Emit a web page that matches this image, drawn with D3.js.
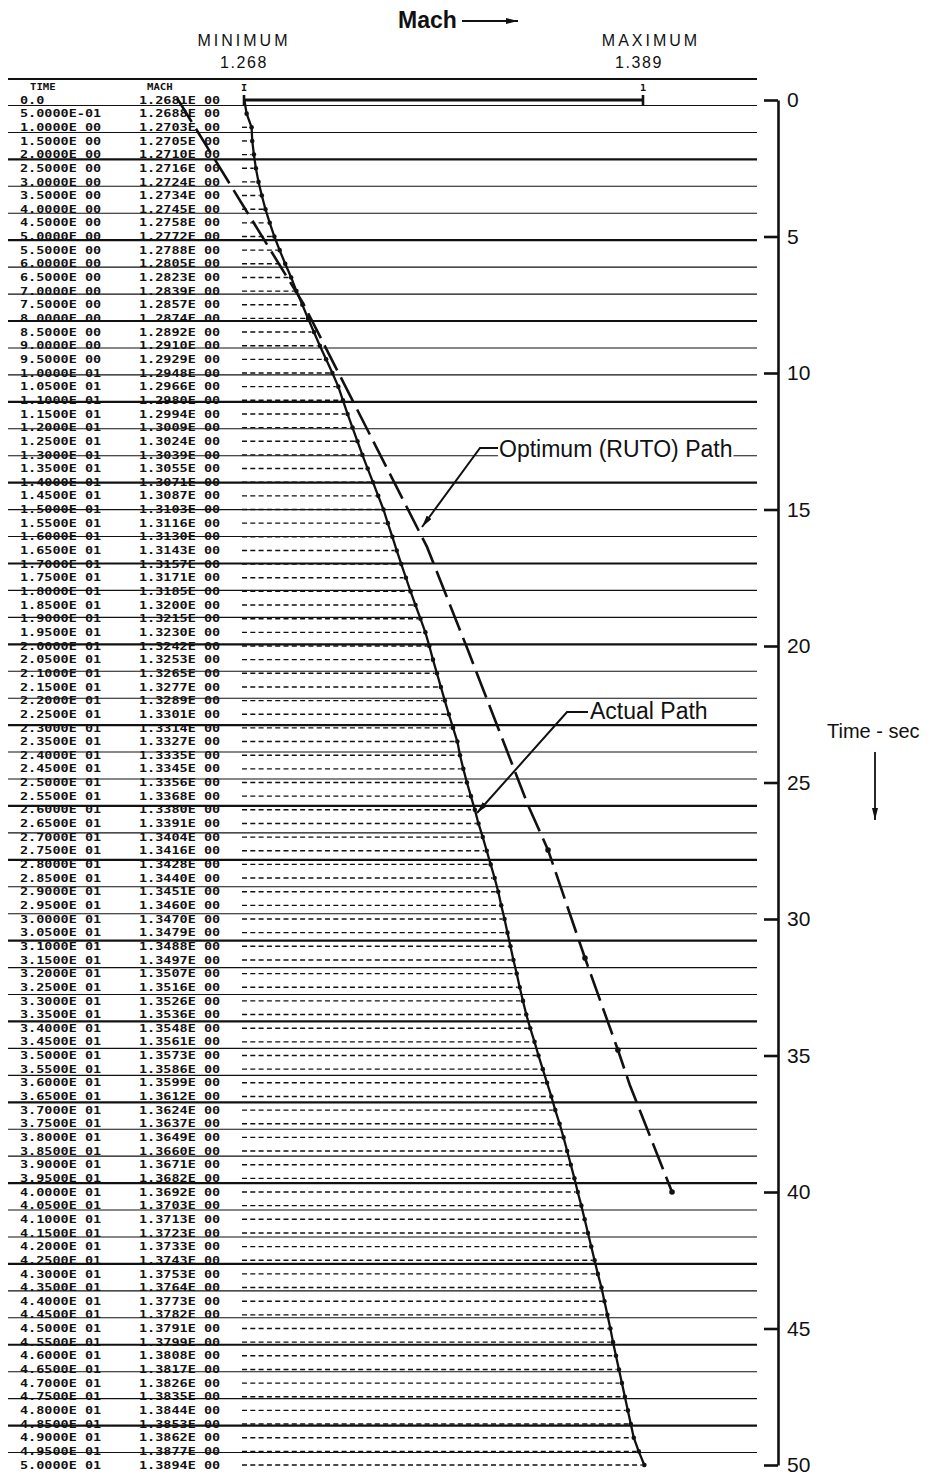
<!DOCTYPE html>
<html>
<head>
<meta charset="utf-8">
<script src="https://cdn.jsdelivr.net/npm/d3@7"></script>
<style>
  html, body { margin: 0; padding: 0; background: #fff; }
  svg { display: block; }
</style>
</head>
<body>
<svg id="chart" width="928" height="1477"></svg>
<script>
// ---- Printout data: time (sec) and Mach number, one row per half second ----
const times = [
  0, 0.5, 1, 1.5, 2, 2.5, 3, 3.5, 4, 4.5,
  5, 5.5, 6, 6.5, 7, 7.5, 8, 8.5, 9, 9.5,
  10, 10.5, 11, 11.5, 12, 12.5, 13, 13.5, 14, 14.5,
  15, 15.5, 16, 16.5, 17, 17.5, 18, 18.5, 19, 19.5,
  20, 20.5, 21, 21.5, 22, 22.5, 23, 23.5, 24, 24.5,
  25, 25.5, 26, 26.5, 27, 27.5, 28, 28.5, 29, 29.5,
  30, 30.5, 31, 31.5, 32, 32.5, 33, 33.5, 34, 34.5,
  35, 35.5, 36, 36.5, 37, 37.5, 38, 38.5, 39, 39.5,
  40, 40.5, 41, 41.5, 42, 42.5, 43, 43.5, 44, 44.5,
  45, 45.5, 46, 46.5, 47, 47.5, 48, 48.5, 49, 49.5,
  50
];
const mach = [
  1.2681, 1.2688, 1.2703, 1.2705, 1.2710, 1.2716, 1.2724, 1.2734, 1.2745, 1.2758,
  1.2772, 1.2788, 1.2805, 1.2823, 1.2839, 1.2857, 1.2874, 1.2892, 1.2910, 1.2929,
  1.2948, 1.2966, 1.2980, 1.2994, 1.3009, 1.3024, 1.3039, 1.3055, 1.3071, 1.3087,
  1.3103, 1.3116, 1.3130, 1.3143, 1.3157, 1.3171, 1.3185, 1.3200, 1.3215, 1.3230,
  1.3242, 1.3253, 1.3265, 1.3277, 1.3289, 1.3301, 1.3314, 1.3327, 1.3335, 1.3345,
  1.3356, 1.3368, 1.3380, 1.3391, 1.3404, 1.3416, 1.3428, 1.3440, 1.3451, 1.3460,
  1.3470, 1.3479, 1.3488, 1.3497, 1.3507, 1.3516, 1.3526, 1.3536, 1.3548, 1.3561,
  1.3573, 1.3586, 1.3599, 1.3612, 1.3624, 1.3637, 1.3649, 1.3660, 1.3671, 1.3682,
  1.3692, 1.3703, 1.3713, 1.3723, 1.3733, 1.3743, 1.3753, 1.3764, 1.3773, 1.3782,
  1.3791, 1.3799, 1.3808, 1.3817, 1.3826, 1.3835, 1.3844, 1.3853, 1.3862, 1.3877,
  1.3894
];

// Plot scale limits printed across the top
const scaleNames = ["MINIMUM", "MAXIMUM"];
const scaleValues = [1.268, 1.389];
const scaleMarks = ["I", "1"];

// Time axis ticks (seconds)
const timeTicks = [0, 5, 10, 15, 20, 25, 30, 35, 40, 45, 50];

// Optimum (RUTO) path, hand-drawn over the printout
const rutoTime = [-0.07, 7.44, 16.37, 20.15, 25.82, 27.47, 31.43, 34.80, 36.08, 40.0];
const rutoMach = [1.2477, 1.2859, 1.3235, 1.3359, 1.3541, 1.3602, 1.3714, 1.3814, 1.3850, 1.3978];
// vertices of that path that carry a plotted dot
const rutoDotted = [5, 6, 7, 9];

// Column headings
const columnHeads = ["TIME", "MACH"];

// ---- Drawing ----
const svg = d3.select("#chart");
const ink = "#111";
const sans = "'Liberation Sans', Arial, Helvetica, sans-serif";
const mono = "'DejaVu Sans Mono', 'Liberation Mono', monospace";

const x = d3.scaleLinear().domain(scaleValues).range([244, 643]);
const y = d3.scaleLinear().domain([0, 50]).range([100, 1465]);

svg.append("rect").attr("width", 928).attr("height", 1477).attr("fill", "#fff");

// Printer paper rules: one every two print lines, every third one heavier
const rules = svg.append("g").attr("stroke", ink);
rules.append("line")
  .attr("x1", 8).attr("x2", 757).attr("y1", 79).attr("y2", 79)
  .attr("stroke-width", 2);
const rulePitch = 26.94;
for (let k = 0; k <= 50; k++) {
  const yy = 105.5 + k * rulePitch;
  const heavy = k <= 26 ? k % 3 === 2 : k % 3 === 1;
  rules.append("line")
    .attr("x1", 8).attr("x2", 757).attr("y1", yy).attr("y2", yy)
    .attr("stroke-width", heavy ? 2.2 : 1.1);
}

// Fortran-style E format used by the printout
function fmtE(v) {
  if (v === 0) return "0.0";
  let e = Math.floor(Math.log10(v));
  let ms = (v / Math.pow(10, e)).toFixed(4);
  if (parseFloat(ms) >= 10) { e += 1; ms = (v / Math.pow(10, e)).toFixed(4); }
  const es = e < 0 ? "-" + String(-e).padStart(2, "0") : " " + String(e).padStart(2, "0");
  return ms + "E" + es;
}

// Column headings
const heads = svg.append("g")
  .attr("font-family", mono).attr("font-weight", "bold").attr("font-size", 8.5).attr("fill", ink);
[30, 147].forEach((cx, i) => {
  heads.append("text")
    .attr("transform", `translate(${cx},89.5) scale(1.25,1)`)
    .text(columnHeads[i]);
});
// Scale end marks in the heading row
scaleValues.forEach((v, i) => {
  heads.append("text")
    .attr("transform", `translate(${x(v)},90.5) scale(1.2,1)`)
    .attr("text-anchor", "middle")
    .text(scaleMarks[i]);
});

// Table of printed values
const table = svg.append("g")
  .attr("font-family", mono).attr("font-weight", "bold").attr("font-size", 10).attr("fill", ink);
times.forEach((t, i) => {
  const yy = y(t) + 3.6;
  table.append("text")
    .attr("transform", `translate(20,${yy}) scale(1.35,1)`)
    .text(fmtE(t));
  table.append("text")
    .attr("transform", `translate(139,${yy}) scale(1.35,1)`)
    .text(fmtE(mach[i]));
});

// Scale bar on the first line, min to max
const bar = svg.append("g").attr("stroke", ink);
bar.append("line")
  .attr("x1", x(scaleValues[0])).attr("x2", x(scaleValues[1]))
  .attr("y1", y(0)).attr("y2", y(0)).attr("stroke-width", 3.2);
scaleValues.forEach(v => {
  bar.append("line")
    .attr("x1", x(v)).attr("x2", x(v))
    .attr("y1", y(0) - 5).attr("y2", y(0) + 5).attr("stroke-width", 2.6);
});

// Printed dash leaders from the minimum to each point
const leaders = svg.append("g")
  .attr("stroke", ink).attr("stroke-width", 1.4).attr("stroke-dasharray", "5,3.3");
times.forEach((t, i) => {
  if (i === 0) return;
  const x0 = x(scaleValues[0]) - 2, x1 = x(mach[i]) - 2.5;
  if (x1 - x0 < 3) return;
  leaders.append("line")
    .attr("x1", x0).attr("x2", x1).attr("y1", y(t)).attr("y2", y(t));
});

// Actual path through the printed points
const pts = times.map((t, i) => [x(mach[i]), y(t)]);
svg.append("path")
  .attr("d", d3.line()(pts))
  .attr("fill", "none").attr("stroke", ink).attr("stroke-width", 2.3)
  .attr("stroke-linejoin", "round");
svg.append("g").attr("fill", ink)
  .selectAll("circle").data(pts.slice(1)).join("circle")
  .attr("cx", d => d[0]).attr("cy", d => d[1]).attr("r", 2.3);

// Optimum (RUTO) path, long dashes
const rutoPts = rutoTime.map((t, i) => [x(rutoMach[i]), y(t)]);
svg.append("path")
  .attr("d", d3.line()(rutoPts))
  .attr("fill", "none").attr("stroke", ink).attr("stroke-width", 2.6)
  .attr("stroke-dasharray", "28,8");
svg.append("g").attr("fill", ink)
  .selectAll("circle").data(rutoDotted.map(i => rutoPts[i])).join("circle")
  .attr("cx", d => d[0]).attr("cy", d => d[1]).attr("r", 2.8);

// Time axis on the right
const axis = svg.append("g")
  .attr("transform", "translate(778,0)")
  .call(d3.axisRight(y).tickValues(timeTicks).tickFormat(d3.format("d"))
    .tickSizeInner(-14).tickSizeOuter(0).tickPadding(9));
axis.select(".domain").attr("stroke", ink).attr("stroke-width", 2.6);
axis.selectAll(".tick line").attr("stroke", ink).attr("stroke-width", 2.6);
axis.selectAll(".tick text")
  .attr("fill", ink).attr("font-family", sans).attr("font-size", 21);

// Arrowhead marker
const defs = svg.append("defs");
defs.append("marker")
  .attr("id", "head").attr("viewBox", "0 0 12 6")
  .attr("refX", 12).attr("refY", 3)
  .attr("markerWidth", 12).attr("markerHeight", 6)
  .attr("markerUnits", "userSpaceOnUse").attr("orient", "auto")
  .append("path").attr("d", "M0,0 L12,3 L0,6 Z").attr("fill", ink);

// Top heading: Mach with arrow, and the scale limits
svg.append("text")
  .attr("x", 398).attr("y", 28)
  .attr("font-family", sans).attr("font-weight", "bold").attr("font-size", 23)
  .attr("fill", ink).text("Mach");
svg.append("line")
  .attr("x1", 462).attr("x2", 518).attr("y1", 21).attr("y2", 21)
  .attr("stroke", ink).attr("stroke-width", 1.8).attr("marker-end", "url(#head)");

scaleValues.forEach((v, i) => {
  svg.append("text")
    .attr("x", x(v) + (i ? 8 : 0)).attr("y", 46)
    .attr("text-anchor", "middle").attr("font-family", sans).attr("font-size", 16)
    .attr("letter-spacing", 3).attr("fill", ink).text(scaleNames[i]);
  svg.append("text")
    .attr("x", x(v) + (i ? -4 : 0)).attr("y", 68)
    .attr("text-anchor", "middle").attr("font-family", sans).attr("font-size", 16)
    .attr("letter-spacing", 1.6).attr("fill", ink).text(d3.format(".3f")(v));
});

// Call-out labels with leaders
function callout(label, tx, ty, leader) {
  const g = svg.append("g");
  const t = g.append("text")
    .attr("x", tx).attr("y", ty)
    .attr("font-family", sans).attr("font-size", 23).attr("fill", ink).text(label);
  const b = t.node().getBBox();
  g.insert("rect", "text")
    .attr("x", b.x - 1).attr("y", b.y + 2).attr("width", b.width + 2).attr("height", b.height - 4)
    .attr("fill", "#fff");
  svg.append("path")
    .attr("d", d3.line()(leader))
    .attr("fill", "none").attr("stroke", ink).attr("stroke-width", 2)
    .attr("marker-end", "url(#head)");
}
callout("Optimum (RUTO) Path", 499, 457, [[498, 448], [480, 448], [422, 527]]);
callout("Actual Path", 590, 719, [[588, 712], [567, 712], [477, 813]]);

// Time label with downward arrow
svg.append("text")
  .attr("x", 827).attr("y", 738)
  .attr("font-family", sans).attr("font-size", 20).attr("fill", ink).text("Time - sec");
svg.append("line")
  .attr("x1", 875).attr("x2", 875).attr("y1", 752).attr("y2", 820)
  .attr("stroke", ink).attr("stroke-width", 1.8).attr("marker-end", "url(#head)");
</script>
</body>
</html>
